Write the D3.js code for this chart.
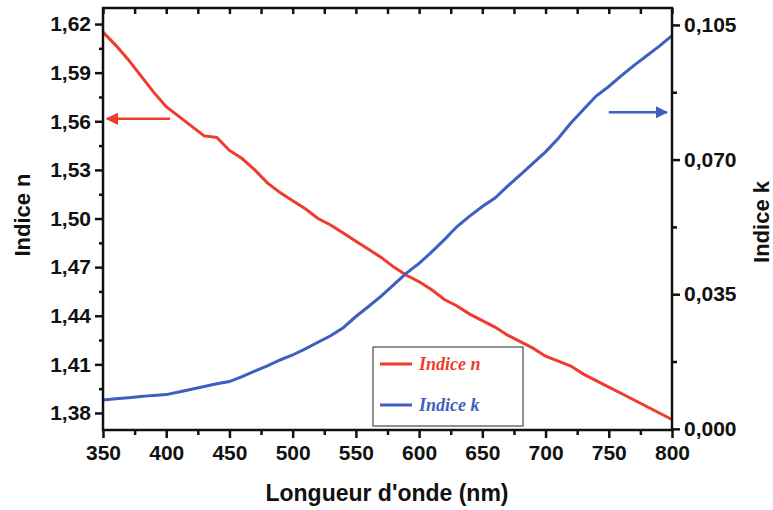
<!DOCTYPE html>
<html>
<head>
<meta charset="utf-8">
<script src="https://cdn.jsdelivr.net/npm/d3@7"></script>
<style>
  body { margin: 0; background: #fff; }
  svg text { font-family: "Liberation Sans", Arial, sans-serif; font-weight: bold; fill: #111; }
</style>
</head>
<body>
<svg id="chart" width="773" height="510"></svg>
<script>
// -- data -- //
const wavelengths = [350, 360, 370, 380, 390, 400, 410, 420, 430, 440, 450, 460, 470, 480, 490,
  500, 510, 520, 530, 540, 550, 560, 570, 580, 590, 600, 610, 620, 630, 640, 650, 660, 670,
  680, 690, 700, 710, 720, 730, 740, 750, 760, 770, 780, 790, 800];
const indiceN = [1.615, 1.607, 1.598, 1.588, 1.578, 1.569, 1.563, 1.557, 1.551, 1.550, 1.542,
  1.537, 1.530, 1.522, 1.516, 1.511, 1.506, 1.500, 1.496, 1.491, 1.486, 1.481, 1.476, 1.470,
  1.465, 1.461, 1.456, 1.450, 1.446, 1.441, 1.437, 1.433, 1.428, 1.424, 1.420, 1.415, 1.412,
  1.409, 1.404, 1.400, 1.396, 1.392, 1.388, 1.384, 1.380, 1.376];
const indiceK = [0.0075, 0.0078, 0.0081, 0.0084, 0.0087, 0.0089, 0.0096, 0.0103, 0.0110, 0.0117,
  0.0123, 0.0136, 0.0150, 0.0164, 0.0179, 0.0192, 0.0208, 0.0225, 0.0242, 0.0263, 0.0292,
  0.0318, 0.0345, 0.0375, 0.0405, 0.0430, 0.0460, 0.0492, 0.0526, 0.0553, 0.0578, 0.0600,
  0.0631, 0.0660, 0.0690, 0.0720, 0.0755, 0.0795, 0.0830, 0.0865, 0.0890, 0.0918, 0.0945,
  0.0970, 0.0995, 0.1022];

const xTicks = [350, 400, 450, 500, 550, 600, 650, 700, 750, 800];
const xMinor = [375, 425, 475, 525, 575, 625, 675, 725, 775];
const nTicks = [1.38, 1.41, 1.44, 1.47, 1.50, 1.53, 1.56, 1.59, 1.62];
const nMinor = [1.395, 1.425, 1.455, 1.485, 1.515, 1.545, 1.575, 1.605];
const kTicks = [0, 0.035, 0.070, 0.105];
const kMinor = [0.0175, 0.0525, 0.0875];

const redColor = "#ef3b2c";
const blueColor = "#3f5ec0";

const svg = d3.select("#chart");
const plotLeft = 103, plotRight = 672, plotTop = 8, plotBottom = 430;

let xScale = d3.scaleLinear().domain([350, 800]).range([plotLeft, plotRight]);
let nScale = d3.scaleLinear().domain([1.3695, 1.6299]).range([plotBottom, plotTop]);
let kScale = d3.scaleLinear().domain([-0.0003, 0.1094]).range([plotBottom, plotTop]);

let comma = (d, p) => d.toFixed(p).replace(".", ",");

// -- curves -- //
let nLine = d3.line().x((d, i) => xScale(wavelengths[i])).y(d => nScale(d));
let kLine = d3.line().x((d, i) => xScale(wavelengths[i])).y(d => kScale(d));

svg.append("path").datum(indiceN)
  .attr("d", nLine)
  .style("fill", "none").style("stroke", redColor).style("stroke-width", 3);
svg.append("path").datum(indiceK)
  .attr("d", kLine)
  .style("fill", "none").style("stroke", blueColor).style("stroke-width", 3);

// -- axes -- //
let styleAxis = g => {
  g.select(".domain").remove();
  g.selectAll("line").style("stroke", "#111").style("stroke-width", 2.5);
  g.selectAll("text").style("font-size", "21px");
};

svg.append("g").attr("transform", `translate(0,${plotBottom})`)
  .call(d3.axisBottom(xScale).tickValues(xTicks).tickSize(8).tickPadding(7).tickFormat(d3.format("d")))
  .call(styleAxis);
svg.append("g").attr("transform", `translate(0,${plotBottom})`)
  .call(d3.axisBottom(xScale).tickValues(xMinor).tickSize(5).tickFormat(""))
  .call(styleAxis);
svg.append("g").attr("transform", `translate(0,${plotTop})`)
  .call(d3.axisBottom(xScale).tickValues(xTicks.concat(xMinor)).tickSize(6).tickFormat(""))
  .call(styleAxis);

svg.append("g").attr("transform", `translate(${plotLeft},0)`)
  .call(d3.axisLeft(nScale).tickValues(nTicks).tickSize(8).tickPadding(4).tickFormat(d => comma(d, 2)))
  .call(styleAxis);
svg.append("g").attr("transform", `translate(${plotLeft},0)`)
  .call(d3.axisLeft(nScale).tickValues(nMinor).tickSize(4).tickFormat(""))
  .call(styleAxis);

svg.append("g").attr("transform", `translate(${plotRight},0)`)
  .call(d3.axisRight(kScale).tickValues(kTicks).tickSize(8).tickPadding(4).tickFormat(d => comma(d, 3)))
  .call(styleAxis);
svg.append("g").attr("transform", `translate(${plotRight},0)`)
  .call(d3.axisRight(kScale).tickValues(kMinor).tickSize(5).tickFormat(""))
  .call(styleAxis);

// -- frame -- //
svg.append("rect")
  .attr("x", plotLeft).attr("y", plotTop)
  .attr("width", plotRight - plotLeft).attr("height", plotBottom - plotTop)
  .style("fill", "none").style("stroke", "#111").style("stroke-width", 2.5);

// -- axis titles -- //
svg.append("text")
  .attr("x", 387).attr("y", 501)
  .attr("text-anchor", "middle").style("font-size", "23px")
  .text("Longueur d'onde (nm)");
svg.append("text")
  .attr("transform", "translate(30,215) rotate(-90)")
  .attr("text-anchor", "middle").style("font-size", "22px")
  .text("Indice n");
svg.append("text")
  .attr("transform", "translate(769,222) rotate(-90)")
  .attr("text-anchor", "middle").style("font-size", "22px")
  .text("Indice k");

// -- arrows -- //
let defs = svg.append("defs");
[["headRed", redColor], ["headBlue", blueColor]].forEach(([id, c]) => {
  defs.append("marker").attr("id", id)
    .attr("viewBox", "0 0 10 10").attr("refX", 9).attr("refY", 5)
    .attr("markerWidth", 5).attr("markerHeight", 5).attr("orient", "auto")
    .append("path").attr("d", "M0,0L10,5L0,10Z").style("fill", c);
});
svg.append("line")
  .attr("x1", xScale(403)).attr("x2", xScale(353))
  .attr("y1", nScale(1.5615)).attr("y2", nScale(1.5615))
  .style("stroke", redColor).style("stroke-width", 2.5)
  .attr("marker-end", "url(#headRed)");
svg.append("line")
  .attr("x1", xScale(750)).attr("x2", xScale(796))
  .attr("y1", kScale(0.0823)).attr("y2", kScale(0.0823))
  .style("stroke", blueColor).style("stroke-width", 2.5)
  .attr("marker-end", "url(#headBlue)");

// -- legend -- //
let legend = svg.append("g").attr("transform", "translate(373,347)");
legend.append("rect").attr("width", 150).attr("height", 79)
  .style("fill", "#fff").style("stroke", "#222").style("stroke-width", 1);
[["Indice n", redColor, 17], ["Indice k", blueColor, 58]].forEach(([label, c, y]) => {
  legend.append("line").attr("x1", 7).attr("x2", 39).attr("y1", y).attr("y2", y)
    .style("stroke", c).style("stroke-width", 3);
  legend.append("text").attr("x", 46).attr("y", y + 6)
    .style("font-family", "'Liberation Serif', 'Times New Roman', serif")
    .style("font-style", "italic").style("font-weight", "bold")
    .style("font-size", "18px").style("fill", c)
    .text(label);
});
</script>
</body>
</html>
